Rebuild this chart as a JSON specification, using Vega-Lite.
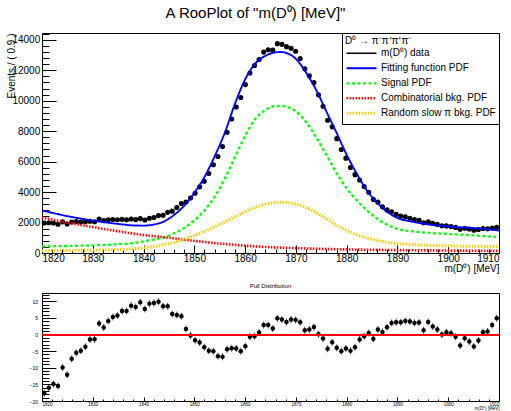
{
  "$schema": "https://vega.github.io/schema/vega-lite/v6.json",
  "background": "white",
  "padding": {"left": 5, "top": 5, "right": 5, "bottom": 0},
  "title": {"text": "A RooPlot of \"m(D⁰) [MeV]\"", "fontSize": 15, "font": "Liberation Sans", "fontWeight": "normal", "color": "black", "anchor": "middle", "offset": 12},
  "config": {
    "font": "Liberation Sans",
    "view": {"stroke": "black", "strokeWidth": 1},
    "axis": {"grid": false, "domainColor": "black", "tickColor": "black", "labelColor": "black", "titleColor": "black", "labelFont": "Liberation Sans", "titleFont": "Liberation Sans", "titleFontWeight": "normal"},
    "legend": {"orient": "top-right", "offset": 0, "strokeColor": "black", "fillColor": "white", "padding": 3, "titleFontSize": 10, "titleFontWeight": "normal", "titleFont": "Liberation Sans", "titleColor": "black", "labelFontSize": 10, "labelFont": "Liberation Sans", "labelColor": "black", "symbolSize": 900, "symbolType": "stroke", "labelOffset": 3, "rowPadding": 0, "clipHeight": 14.5, "titlePadding": 0, "cornerRadius": 0}
  },
  "datasets": {
    "bins": [
      {"m":1820.45,"ev":1970,"pull":-17.7},{"m":1821.35,"ev":1990,"pull":-16.0},{"m":1822.25,"ev":1970,"pull":-14.9},{"m":1823.15,"ev":1890,"pull":-15.5},{"m":1824.05,"ev":2045,"pull":-9.9},
      {"m":1824.95,"ev":1900,"pull":-12.1},{"m":1825.85,"ev":2040,"pull":-7.3},{"m":1826.75,"ev":2065,"pull":-5.5},{"m":1827.65,"ev":2040,"pull":-4.9},{"m":1828.55,"ev":2045,"pull":-3.7},
      {"m":1829.45,"ev":2090,"pull":-1.5},{"m":1830.35,"ev":2050,"pull":-1.4},{"m":1831.25,"ev":2225,"pull":3.3},{"m":1832.15,"ev":2125,"pull":2.1},{"m":1833.05,"ev":2180,"pull":4.1},
      {"m":1833.95,"ev":2200,"pull":5.3},{"m":1834.85,"ev":2180,"pull":5.7},{"m":1835.75,"ev":2215,"pull":7.1},{"m":1836.65,"ev":2180,"pull":7.1},{"m":1837.55,"ev":2230,"pull":8.7},
      {"m":1838.45,"ev":2195,"pull":8.3},{"m":1839.35,"ev":2260,"pull":9.7},{"m":1840.25,"ev":2165,"pull":7.7},{"m":1841.15,"ev":2280,"pull":9.3},{"m":1842.05,"ev":2330,"pull":9.5},
      {"m":1842.95,"ev":2455,"pull":9.9},{"m":1843.85,"ev":2475,"pull":8.5},{"m":1844.75,"ev":2670,"pull":8.5},{"m":1845.65,"ev":2750,"pull":6.2},{"m":1846.55,"ev":2985,"pull":5.9},
      {"m":1847.45,"ev":3250,"pull":5.5},{"m":1848.35,"ev":3345,"pull":1.7},{"m":1849.25,"ev":3615,"pull":-0.3},{"m":1850.15,"ev":3920,"pull":-1.7},{"m":1851.05,"ev":4345,"pull":-2.4},
      {"m":1851.95,"ev":4715,"pull":-3.8},{"m":1852.85,"ev":5220,"pull":-4.9},{"m":1853.75,"ev":5800,"pull":-5.0},{"m":1854.65,"ev":6335,"pull":-6.5},{"m":1855.55,"ev":6990,"pull":-6.7},
      {"m":1856.45,"ev":7935,"pull":-4.4},{"m":1857.35,"ev":8800,"pull":-4.1},{"m":1858.25,"ev":9590,"pull":-4.2},{"m":1859.15,"ev":10215,"pull":-5.0},{"m":1860.05,"ev":11060,"pull":-3.5},
      {"m":1860.95,"ev":11825,"pull":-0.7},{"m":1861.85,"ev":12315,"pull":-0.5},{"m":1862.75,"ev":12705,"pull":0.6},{"m":1863.65,"ev":13195,"pull":2.9},{"m":1864.55,"ev":13345,"pull":2.9},
      {"m":1865.45,"ev":13325,"pull":1.8},{"m":1866.35,"ev":13750,"pull":4.9},{"m":1867.25,"ev":13705,"pull":4.5},{"m":1868.15,"ev":13555,"pull":3.8},{"m":1869.05,"ev":13450,"pull":4.5},
      {"m":1869.95,"ev":13255,"pull":4.4},{"m":1870.85,"ev":12780,"pull":3.7},{"m":1871.75,"ev":12105,"pull":1.3},{"m":1872.65,"ev":11635,"pull":1.5},{"m":1873.55,"ev":11200,"pull":2.3},
      {"m":1874.45,"ev":10395,"pull":0.1},{"m":1875.35,"ev":9635,"pull":-1.2},{"m":1876.25,"ev":8715,"pull":-4.3},{"m":1877.15,"ev":8285,"pull":-2.3},{"m":1878.05,"ev":7510,"pull":-4.0},
      {"m":1878.95,"ev":6800,"pull":-5.0},{"m":1879.85,"ev":6230,"pull":-4.2},{"m":1880.75,"ev":5615,"pull":-4.9},{"m":1881.65,"ev":5145,"pull":-3.8},{"m":1882.55,"ev":4795,"pull":-1.5},
      {"m":1883.45,"ev":4370,"pull":-0.5},{"m":1884.35,"ev":3990,"pull":0.5},{"m":1885.25,"ev":3520,"pull":-1.3},{"m":1886.15,"ev":3340,"pull":1.5},{"m":1887.05,"ev":3030,"pull":0.8},
      {"m":1887.95,"ev":2830,"pull":2.2},{"m":1888.85,"ev":2710,"pull":3.5},{"m":1889.75,"ev":2535,"pull":3.7},{"m":1890.65,"ev":2430,"pull":3.7},{"m":1891.55,"ev":2370,"pull":4.1},
      {"m":1892.45,"ev":2285,"pull":3.9},{"m":1893.35,"ev":2195,"pull":3.5},{"m":1894.25,"ev":2145,"pull":3.6},{"m":1895.15,"ev":1985,"pull":1.3},{"m":1896.05,"ev":2050,"pull":3.8},
      {"m":1896.95,"ev":1955,"pull":2.4},{"m":1897.85,"ev":1880,"pull":1.5},{"m":1898.75,"ev":1785,"pull":0.0},{"m":1899.65,"ev":1780,"pull":0.7},{"m":1900.55,"ev":1745,"pull":0.4},
      {"m":1901.45,"ev":1680,"pull":-0.7},{"m":1902.35,"ev":1560,"pull":-3.3},{"m":1903.25,"ev":1630,"pull":-1.1},{"m":1904.15,"ev":1575,"pull":-2.1},{"m":1905.05,"ev":1500,"pull":-3.6},
      {"m":1905.95,"ev":1540,"pull":-1.8},{"m":1906.85,"ev":1610,"pull":0.7},{"m":1907.75,"ev":1585,"pull":0.9},{"m":1908.65,"ev":1640,"pull":2.9},{"m":1909.55,"ev":1695,"pull":4.9}
    ],
    "curves": [
      {"m":1820,"v":440,"c":"Signal PDF"},{"m":1825,"v":460,"c":"Signal PDF"},{"m":1830,"v":500,"c":"Signal PDF"},{"m":1835,"v":580,"c":"Signal PDF"},{"m":1838,"v":660,"c":"Signal PDF"},{"m":1840,"v":760,"c":"Signal PDF"},{"m":1842,"v":880,"c":"Signal PDF"},{"m":1844,"v":1020,"c":"Signal PDF"},{"m":1846,"v":1300,"c":"Signal PDF"},{"m":1848,"v":1650,"c":"Signal PDF"},{"m":1850,"v":2150,"c":"Signal PDF"},{"m":1852,"v":2800,"c":"Signal PDF"},{"m":1854,"v":3700,"c":"Signal PDF"},{"m":1856,"v":4900,"c":"Signal PDF"},{"m":1858,"v":6300,"c":"Signal PDF"},{"m":1860,"v":7700,"c":"Signal PDF"},{"m":1862,"v":8800,"c":"Signal PDF"},{"m":1864,"v":9400,"c":"Signal PDF"},{"m":1866,"v":9650,"c":"Signal PDF"},{"m":1867,"v":9660,"c":"Signal PDF"},{"m":1868,"v":9620,"c":"Signal PDF"},{"m":1870,"v":9300,"c":"Signal PDF"},{"m":1872,"v":8600,"c":"Signal PDF"},{"m":1874,"v":7600,"c":"Signal PDF"},{"m":1876,"v":6450,"c":"Signal PDF"},{"m":1878,"v":5250,"c":"Signal PDF"},{"m":1880,"v":4250,"c":"Signal PDF"},{"m":1882,"v":3450,"c":"Signal PDF"},{"m":1884,"v":2800,"c":"Signal PDF"},{"m":1886,"v":2250,"c":"Signal PDF"},{"m":1888,"v":1850,"c":"Signal PDF"},{"m":1890,"v":1580,"c":"Signal PDF"},{"m":1893,"v":1420,"c":"Signal PDF"},{"m":1896,"v":1330,"c":"Signal PDF"},{"m":1900,"v":1250,"c":"Signal PDF"},{"m":1905,"v":1150,"c":"Signal PDF"},{"m":1910,"v":1040,"c":"Signal PDF"},
      {"m":1820,"v":2330,"c":"Combinatorial bkg. PDF"},{"m":1825,"v":2000,"c":"Combinatorial bkg. PDF"},{"m":1830,"v":1700,"c":"Combinatorial bkg. PDF"},{"m":1835,"v":1430,"c":"Combinatorial bkg. PDF"},{"m":1840,"v":1180,"c":"Combinatorial bkg. PDF"},{"m":1845,"v":1000,"c":"Combinatorial bkg. PDF"},{"m":1850,"v":800,"c":"Combinatorial bkg. PDF"},{"m":1855,"v":620,"c":"Combinatorial bkg. PDF"},{"m":1860,"v":480,"c":"Combinatorial bkg. PDF"},{"m":1865,"v":380,"c":"Combinatorial bkg. PDF"},{"m":1870,"v":320,"c":"Combinatorial bkg. PDF"},{"m":1875,"v":270,"c":"Combinatorial bkg. PDF"},{"m":1880,"v":235,"c":"Combinatorial bkg. PDF"},{"m":1885,"v":210,"c":"Combinatorial bkg. PDF"},{"m":1890,"v":190,"c":"Combinatorial bkg. PDF"},{"m":1895,"v":175,"c":"Combinatorial bkg. PDF"},{"m":1900,"v":160,"c":"Combinatorial bkg. PDF"},{"m":1905,"v":150,"c":"Combinatorial bkg. PDF"},{"m":1910,"v":140,"c":"Combinatorial bkg. PDF"},
      {"m":1820,"v":150,"c":"Random slow π bkg. PDF"},{"m":1825,"v":170,"c":"Random slow π bkg. PDF"},{"m":1830,"v":190,"c":"Random slow π bkg. PDF"},{"m":1835,"v":230,"c":"Random slow π bkg. PDF"},{"m":1840,"v":330,"c":"Random slow π bkg. PDF"},{"m":1843,"v":480,"c":"Random slow π bkg. PDF"},{"m":1845,"v":620,"c":"Random slow π bkg. PDF"},{"m":1848,"v":900,"c":"Random slow π bkg. PDF"},{"m":1850,"v":1150,"c":"Random slow π bkg. PDF"},{"m":1853,"v":1570,"c":"Random slow π bkg. PDF"},{"m":1856,"v":2050,"c":"Random slow π bkg. PDF"},{"m":1859,"v":2550,"c":"Random slow π bkg. PDF"},{"m":1862,"v":3000,"c":"Random slow π bkg. PDF"},{"m":1865,"v":3280,"c":"Random slow π bkg. PDF"},{"m":1867,"v":3340,"c":"Random slow π bkg. PDF"},{"m":1869,"v":3280,"c":"Random slow π bkg. PDF"},{"m":1872,"v":2980,"c":"Random slow π bkg. PDF"},{"m":1875,"v":2450,"c":"Random slow π bkg. PDF"},{"m":1878,"v":1830,"c":"Random slow π bkg. PDF"},{"m":1881,"v":1330,"c":"Random slow π bkg. PDF"},{"m":1884,"v":990,"c":"Random slow π bkg. PDF"},{"m":1887,"v":760,"c":"Random slow π bkg. PDF"},{"m":1890,"v":620,"c":"Random slow π bkg. PDF"},{"m":1895,"v":520,"c":"Random slow π bkg. PDF"},{"m":1900,"v":470,"c":"Random slow π bkg. PDF"},{"m":1905,"v":440,"c":"Random slow π bkg. PDF"},{"m":1910,"v":420,"c":"Random slow π bkg. PDF"},
      {"m":1820,"v":2790,"c":"Fitting function PDF"},{"m":1822,"v":2640,"c":"Fitting function PDF"},{"m":1825,"v":2420,"c":"Fitting function PDF"},{"m":1828,"v":2240,"c":"Fitting function PDF"},{"m":1830,"v":2130,"c":"Fitting function PDF"},{"m":1833,"v":1990,"c":"Fitting function PDF"},{"m":1836,"v":1870,"c":"Fitting function PDF"},{"m":1838,"v":1810,"c":"Fitting function PDF"},{"m":1840,"v":1800,"c":"Fitting function PDF"},{"m":1842,"v":1870,"c":"Fitting function PDF"},{"m":1844,"v":2070,"c":"Fitting function PDF"},{"m":1846,"v":2500,"c":"Fitting function PDF"},{"m":1848,"v":3100,"c":"Fitting function PDF"},{"m":1850,"v":3950,"c":"Fitting function PDF"},{"m":1852,"v":5000,"c":"Fitting function PDF"},{"m":1854,"v":6350,"c":"Fitting function PDF"},{"m":1856,"v":7900,"c":"Fitting function PDF"},{"m":1858,"v":9800,"c":"Fitting function PDF"},{"m":1860,"v":11400,"c":"Fitting function PDF"},{"m":1862,"v":12450,"c":"Fitting function PDF"},{"m":1864,"v":12950,"c":"Fitting function PDF"},{"m":1866,"v":13180,"c":"Fitting function PDF"},{"m":1867,"v":13200,"c":"Fitting function PDF"},{"m":1868,"v":13150,"c":"Fitting function PDF"},{"m":1870,"v":12750,"c":"Fitting function PDF"},{"m":1872,"v":11850,"c":"Fitting function PDF"},{"m":1874,"v":10700,"c":"Fitting function PDF"},{"m":1876,"v":9300,"c":"Fitting function PDF"},{"m":1878,"v":7900,"c":"Fitting function PDF"},{"m":1880,"v":6450,"c":"Fitting function PDF"},{"m":1882,"v":5200,"c":"Fitting function PDF"},{"m":1884,"v":4100,"c":"Fitting function PDF"},{"m":1886,"v":3300,"c":"Fitting function PDF"},{"m":1888,"v":2700,"c":"Fitting function PDF"},{"m":1890,"v":2300,"c":"Fitting function PDF"},{"m":1893,"v":2050,"c":"Fitting function PDF"},{"m":1896,"v":1880,"c":"Fitting function PDF"},{"m":1900,"v":1740,"c":"Fitting function PDF"},{"m":1905,"v":1640,"c":"Fitting function PDF"},{"m":1910,"v":1480,"c":"Fitting function PDF"}
    ]
  },
  "bounds": "flush",
  "spacing": 40,
  "vconcat": [
    {
      "width": 457,
      "height": 220,
      "resolve": {"axis": {"x": "independent", "y": "independent"}},
      "layer": [
        {
          "data": {"name": "bins"},
          "mark": {"type": "circle", "size": 26, "color": "black", "opacity": 1},
          "encoding": {
            "x": {"field": "m", "type": "quantitative", "scale": {"domain": [1820, 1910], "nice": false, "zero": false},
              "axis": {"orient": "bottom", "values": [1820,1830,1840,1850,1860,1870,1880,1890,1900,1910],
                "format": "d", "tickSize": -8, "labelPadding": 8, "labelFontSize": 10, "labelFlush": true,
                "title": "m(D⁰) [MeV]", "titleFontSize": 10, "titleAnchor": "end", "titleY": 18, "titleBaseline": "alphabetic"}},
            "y": {"field": "ev", "type": "quantitative", "scale": {"domain": [0, 14450], "nice": false},
              "axis": {"orient": "left", "values": [0,2000,4000,6000,8000,10000,12000,14000],
                "format": "d", "tickSize": -14, "labelPadding": 16.3, "labelFontSize": 10,
                "title": "Events / ( 0.9 )", "titleFontSize": 10, "titleAnchor": "end", "titleX": -31, "titleY": 0, "titleBaseline": "middle"}}
          }
        },
        {
          "data": {"name": "curves"},
          "mark": {"type": "line", "interpolate": "monotone"},
          "encoding": {
            "x": {"field": "m", "type": "quantitative",
              "axis": {"orient": "bottom", "values": [1822,1824,1826,1828,1832,1834,1836,1838,1842,1844,1846,1848,1852,1854,1856,1858,1862,1864,1866,1868,1872,1874,1876,1878,1882,1884,1886,1888,1892,1894,1896,1898,1902,1904,1906,1908],
                "tickSize": -4, "labels": false, "domain": false, "title": null}},
            "y": {"field": "v", "type": "quantitative",
              "axis": {"orient": "left", "values": [400,800,1200,1600,2400,2800,3200,3600,4400,4800,5200,5600,6400,6800,7200,7600,8400,8800,9200,9600,10400,10800,11200,11600,12400,12800,13200,13600,14400],
                "tickSize": -7, "labels": false, "domain": false, "title": null}},
            "color": {"field": "c", "type": "nominal",
              "scale": {"domain": ["m(D⁰) data", "Fitting function PDF", "Signal PDF", "Combinatorial bkg. PDF", "Random slow π bkg. PDF"], "range": ["black", "#0000ff", "#00ff00", "#ff0000", "#ffcc00"]},
              "legend": {"title": "D⁰ → π⁻π⁺π⁺π⁻"}},
            "strokeDash": {"field": "c", "type": "nominal",
              "scale": {"domain": ["m(D⁰) data", "Fitting function PDF", "Signal PDF", "Combinatorial bkg. PDF", "Random slow π bkg. PDF"], "range": [[1, 0], [1, 0], [3, 2.5], [1.5, 1.5], [1.5, 1.5]]},
              "legend": {"title": "D⁰ → π⁻π⁺π⁺π⁻"}},
            "strokeWidth": {"field": "c", "type": "nominal",
              "scale": {"domain": ["m(D⁰) data", "Fitting function PDF", "Signal PDF", "Combinatorial bkg. PDF", "Random slow π bkg. PDF"], "range": [1.5, 3, 3, 2, 2]},
              "legend": {"title": "D⁰ → π⁻π⁺π⁺π⁻"}}
          }
        }
      ]
    },
    {
      "width": 457,
      "height": 108,
      "title": {"text": "Pull Distribution", "fontSize": 6, "fontWeight": "normal", "offset": 4, "color": "black"},
      "data": {"name": "bins"},
      "resolve": {"axis": {"x": "independent", "y": "independent"}},
      "layer": [
        {
          "mark": {"type": "tick", "orient": "vertical", "size": 7, "thickness": 1, "color": "black"},
          "encoding": {
            "x": {"field": "m", "type": "quantitative", "scale": {"domain": [1820, 1910], "nice": false, "zero": false},
              "axis": {"orient": "bottom", "values": [1820,1830,1840,1850,1860,1870,1880,1890,1900,1910],
                "format": "d", "tickSize": -4, "labelPadding": 4.5, "labelFontSize": 4.5, "labelFlush": true,
                "title": "m(D⁰) [MeV]", "titleFontSize": 4.5, "titleAnchor": "end", "titleY": 8.5, "titleBaseline": "alphabetic"}},
            "y": {"field": "pull", "type": "quantitative", "scale": {"domain": [-20, 12.5], "nice": false, "zero": false},
              "axis": {"orient": "left", "values": [-20,-15,-10,-5,0,5,10],
                "format": "d", "tickSize": -14, "labelPadding": 18.5, "labelFontSize": 5, "title": null}}
          }
        },
        {
          "mark": {"type": "circle", "size": 20, "color": "black", "opacity": 1},
          "encoding": {
            "x": {"field": "m", "type": "quantitative",
              "axis": {"orient": "bottom", "values": [1822,1824,1826,1828,1832,1834,1836,1838,1842,1844,1846,1848,1852,1854,1856,1858,1862,1864,1866,1868,1872,1874,1876,1878,1882,1884,1886,1888,1892,1894,1896,1898,1902,1904,1906,1908],
                "tickSize": -2, "labels": false, "domain": false, "title": null}},
            "y": {"field": "pull", "type": "quantitative",
              "axis": {"orient": "left", "values": [-19,-18,-17,-16,-14,-13,-12,-11,-9,-8,-7,-6,-4,-3,-2,-1,1,2,3,4,6,7,8,9,11,12],
                "tickSize": -7, "labels": false, "domain": false, "title": null}}
          }
        },
        {
          "mark": {"type": "rule", "color": "#ff0000", "strokeWidth": 1.2},
          "encoding": {"y": {"datum": 0, "type": "quantitative", "axis": null}}
        }
      ]
    }
  ]
}
